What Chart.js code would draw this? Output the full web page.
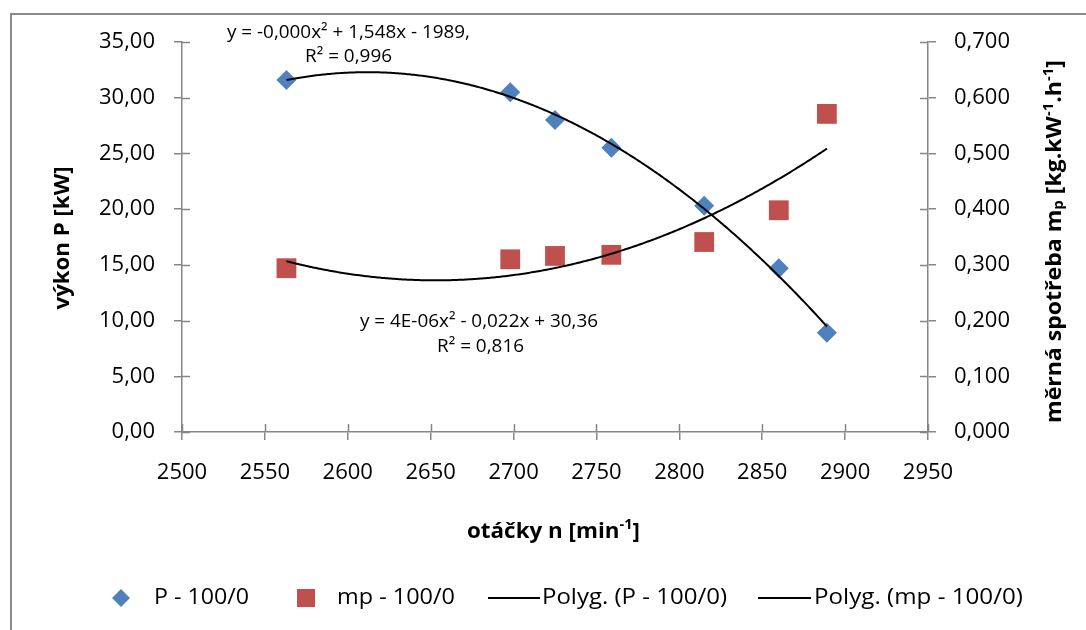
<!DOCTYPE html>
<html>
<head>
<meta charset="utf-8">
<script src="https://cdn.jsdelivr.net/npm/chart.js@4/dist/chart.umd.min.js"></script>
<style>
  html, body { margin: 0; padding: 0; background: #fff; }
  #wrap { width: 1086px; height: 630px; }
</style>
</head>
<body>
<div id="wrap"><canvas id="c" width="1086" height="630"></canvas></div>
<script>
// ---- data ----
const rpm        = [2563, 2698, 2725, 2759, 2815, 2860, 2889];
const powerP     = [31.6, 30.5, 28.0, 25.5, 20.3, 14.7, 8.9];
const specificMp = [0.294, 0.310, 0.316, 0.318, 0.341, 0.398, 0.571];

const seriesLabels = ['P - 100/0', 'mp - 100/0', 'Polyg. (P - 100/0)', 'Polyg. (mp - 100/0)'];
const eqP  = ['y = -0,000x² + 1,548x - 1989,', 'R² = 0,996'];
const eqMp = ['y = 4E-06x² - 0,022x + 30,36', 'R² = 0,816'];

const xMin = 2500, xMax = 2950, xStep = 50;
const yMin = 0, yMax = 35, yStep = 5;
const y1Min = 0, y1Max = 0.7, y1Step = 0.1;

// ---- 2nd order polynomial (least squares) trendline, as in the original chart ----
function quadFit(xs, ys) {
  const n = xs.length;
  const mx = xs.reduce((a, b) => a + b, 0) / n;
  const u = xs.map(x => x - mx);
  let s0 = n, s1 = 0, s2 = 0, s3 = 0, s4 = 0, t0 = 0, t1 = 0, t2 = 0;
  for (let i = 0; i < n; i++) {
    const v = u[i], y = ys[i];
    s1 += v; s2 += v * v; s3 += v * v * v; s4 += v * v * v * v;
    t0 += y; t1 += v * y; t2 += v * v * y;
  }
  const det3 = (m) =>
    m[0][0] * (m[1][1] * m[2][2] - m[1][2] * m[2][1]) -
    m[0][1] * (m[1][0] * m[2][2] - m[1][2] * m[2][0]) +
    m[0][2] * (m[1][0] * m[2][1] - m[1][1] * m[2][0]);
  const A = [[s0, s1, s2], [s1, s2, s3], [s2, s3, s4]];
  const B = [t0, t1, t2];
  const D = det3(A);
  const coef = [0, 1, 2].map(k => {
    const M = A.map((row, r) => row.map((val, c) => (c === k ? B[r] : val)));
    return det3(M) / D;
  });
  return x => { const v = x - mx; return coef[0] + coef[1] * v + coef[2] * v * v; };
}
function trendPoints(xs, ys) {
  const f = quadFit(xs, ys);
  const lo = Math.min(...xs), hi = Math.max(...xs);
  const pts = [];
  for (let x = lo; x <= hi; x += 1) pts.push({ x, y: f(x) });
  return pts;
}

const AXIS_COLOR = '#868686';
const TICK_FONT = { family: 'Open Sans', size: 22 };
const commaFmt = (d) => (v) => v.toFixed(d).replace('.', ',');

// ---- rich text helper (sub/superscripts), optionally fitted to a width ----
function richWidth(ctx, segs, size, weight, family) {
  let w = 0;
  for (const s of segs) {
    const fs = s.sup || s.sub ? size * 0.65 : size;
    ctx.font = `${weight} ${fs}px "${family}"`;
    w += ctx.measureText(s.t).width;
  }
  return w;
}
function drawRich(ctx, segs, cx, cy, size, weight, family, targetW, alignLeft) {
  if (typeof segs === 'string') segs = [{ t: segs }];
  const w = richWidth(ctx, segs, size, weight, family);
  const sx = targetW ? targetW / w : 1;
  ctx.save();
  ctx.translate(cx, cy);
  ctx.scale(sx, 1);
  let x = alignLeft ? 0 : -w / 2;
  ctx.textBaseline = 'middle';
  ctx.textAlign = 'left';
  for (const s of segs) {
    const fs = s.sup || s.sub ? size * 0.65 : size;
    ctx.font = `${weight} ${fs}px "${family}"`;
    let dy = 0;
    if (s.sup) dy = -size * 0.3;
    if (s.sub) dy = size * 0.2;
    ctx.fillText(s.t, x, dy);
    x += ctx.measureText(s.t).width;
  }
  ctx.restore();
}

const decorPlugin = {
  id: 'decor',
  beforeDraw(chart) {
    const ctx = chart.ctx;
    ctx.save();
    ctx.fillStyle = '#fff';
    ctx.fillRect(0, 0, chart.width, chart.height);
    ctx.strokeStyle = '#8a8a8a';
    ctx.lineWidth = 2;
    ctx.strokeRect(11, 14, chart.width + 20, chart.height + 20);
    ctx.restore();
  },
  beforeDatasetsDraw(chart) {
    // inner half of the crossing tick marks
    const ctx = chart.ctx;
    const { x, y, y1 } = chart.scales;
    ctx.save();
    ctx.strokeStyle = AXIS_COLOR;
    ctx.lineWidth = 1.5;
    ctx.beginPath();
    x.ticks.forEach(t => {
      const px = Math.round(x.getPixelForValue(t.value)) + 0.5;
      ctx.moveTo(px, x.top); ctx.lineTo(px, x.top - 8);
    });
    y.ticks.forEach(t => {
      const py = Math.round(y.getPixelForValue(t.value)) + 0.5;
      ctx.moveTo(y.right, py); ctx.lineTo(y.right + 8, py);
    });
    y1.ticks.forEach(t => {
      const py = Math.round(y1.getPixelForValue(t.value)) + 0.5;
      ctx.moveTo(y1.left, py); ctx.lineTo(y1.left - 8, py);
    });
    ctx.stroke();
    ctx.restore();
  },
  afterDraw(chart) {
    const ctx = chart.ctx;
    ctx.save();
    ctx.fillStyle = '#000';
    // axis titles
    drawRich(ctx, [{ t: 'otáčky n [min' }, { t: '-1', sup: true }, { t: ']' }],
      553.5, 532, 22, 'bold', 'Open Sans', 173);
    ctx.save();
    ctx.translate(63, 238);
    ctx.rotate(-Math.PI / 2);
    drawRich(ctx, 'výkon P [kW]', 0, 0, 20.5, 'bold', 'Open Sans', 143);
    ctx.restore();
    ctx.save();
    ctx.translate(1055, 241.5);
    ctx.rotate(-Math.PI / 2);
    drawRich(ctx, [{ t: 'měrná spotřeba m' }, { t: 'p', sub: true }, { t: ' [kg.kW' }, { t: '-1', sup: true },
      { t: '.h' }, { t: '-1', sup: true }, { t: ']' }], 0, 0, 21.5, 'bold', 'Open Sans', 363);
    ctx.restore();
    // trendline equations
    drawRich(ctx, eqP[0], 348.5, 33, 19, 'normal', 'Open Sans', 243);
    drawRich(ctx, eqP[1], 348.5, 57, 19, 'normal', 'Open Sans', 87);
    drawRich(ctx, eqMp[0], 479, 322, 19, 'normal', 'Open Sans', 238);
    drawRich(ctx, eqMp[1], 480.5, 347, 19, 'normal', 'Open Sans', 87);
    // legend
    const ly = 598;
    ctx.fillStyle = '#4F81BD';
    ctx.beginPath();
    ctx.moveTo(121, ly - 9); ctx.lineTo(130, ly); ctx.lineTo(121, ly + 9); ctx.lineTo(112, ly);
    ctx.closePath(); ctx.fill();
    ctx.fillStyle = '#C0504D';
    ctx.fillRect(297, ly - 9, 18, 18);
    ctx.strokeStyle = '#000'; ctx.lineWidth = 2;
    ctx.beginPath();
    ctx.moveTo(488, ly); ctx.lineTo(540, ly);
    ctx.moveTo(758, ly); ctx.lineTo(811, ly);
    ctx.stroke();
    ctx.fillStyle = '#000';
    drawRich(ctx, seriesLabels[0], 154, ly, 22, 'normal', 'Open Sans', 95, true);
    drawRich(ctx, seriesLabels[1], 337, ly, 22, 'normal', 'Open Sans', 118, true);
    drawRich(ctx, seriesLabels[2], 542, ly, 22, 'normal', 'Open Sans', 185, true);
    drawRich(ctx, seriesLabels[3], 814, ly, 22, 'normal', 'Open Sans', 209, true);
    ctx.restore();
  }
};

const ctx = document.getElementById('c').getContext('2d');
new Chart(ctx, {
  type: 'scatter',
  data: {
    datasets: [
      {
        label: seriesLabels[2],
        data: trendPoints(rpm, powerP),
        yAxisID: 'y', showLine: true, pointRadius: 0, borderColor: '#000', borderWidth: 2,
        tension: 0, order: 1
      },
      {
        label: seriesLabels[3],
        data: trendPoints(rpm, specificMp),
        yAxisID: 'y1', showLine: true, pointRadius: 0, borderColor: '#000', borderWidth: 2,
        tension: 0, order: 1
      },
      {
        label: seriesLabels[0],
        data: rpm.map((x, i) => ({ x, y: powerP[i] })),
        yAxisID: 'y', pointStyle: 'rectRot', pointRadius: 10,
        backgroundColor: '#4F81BD', borderColor: '#4F81BD', borderWidth: 0, order: 2
      },
      {
        label: seriesLabels[1],
        data: rpm.map((x, i) => ({ x, y: specificMp[i] })),
        yAxisID: 'y1', pointStyle: 'rect', pointRadius: 14,
        backgroundColor: '#C0504D', borderColor: '#C0504D', borderWidth: 0, order: 2
      }
    ]
  },
  options: {
    responsive: false,
    animation: false,
    events: [],
    devicePixelRatio: 1,
    layout: { padding: { top: 42, left: 0, right: 0, bottom: 0 } },
    plugins: { legend: { display: false }, tooltip: { enabled: false }, title: { display: false } },
    scales: {
      x: {
        type: 'linear', min: xMin, max: xMax,
        ticks: { stepSize: xStep, color: '#000', font: TICK_FONT, padding: 20, callback: v => String(v) },
        grid: { drawOnChartArea: false, drawTicks: true, tickLength: 8, color: AXIS_COLOR, lineWidth: 1.5 },
        border: { display: true, color: AXIS_COLOR, width: 1.5 },
        afterFit: s => { s.height = 630 - 432; }
      },
      y: {
        type: 'linear', position: 'left', min: yMin, max: yMax,
        ticks: { stepSize: yStep, color: '#000', font: TICK_FONT, padding: 19, callback: commaFmt(2) },
        grid: { drawOnChartArea: false, drawTicks: true, tickLength: 8, color: AXIS_COLOR, lineWidth: 1.5 },
        border: { display: true, color: AXIS_COLOR, width: 1.5 },
        afterFit: s => { s.width = 182; }
      },
      y1: {
        type: 'linear', position: 'right', min: y1Min, max: y1Max,
        ticks: { stepSize: y1Step, color: '#000', font: TICK_FONT, padding: 18, callback: commaFmt(3) },
        grid: { drawOnChartArea: false, drawTicks: true, tickLength: 8, color: AXIS_COLOR, lineWidth: 1.5 },
        border: { display: true, color: AXIS_COLOR, width: 1.5 },
        afterFit: s => { s.width = 1086 - 928; }
      }
    }
  },
  plugins: [decorPlugin]
});
</script>
</body>
</html>
